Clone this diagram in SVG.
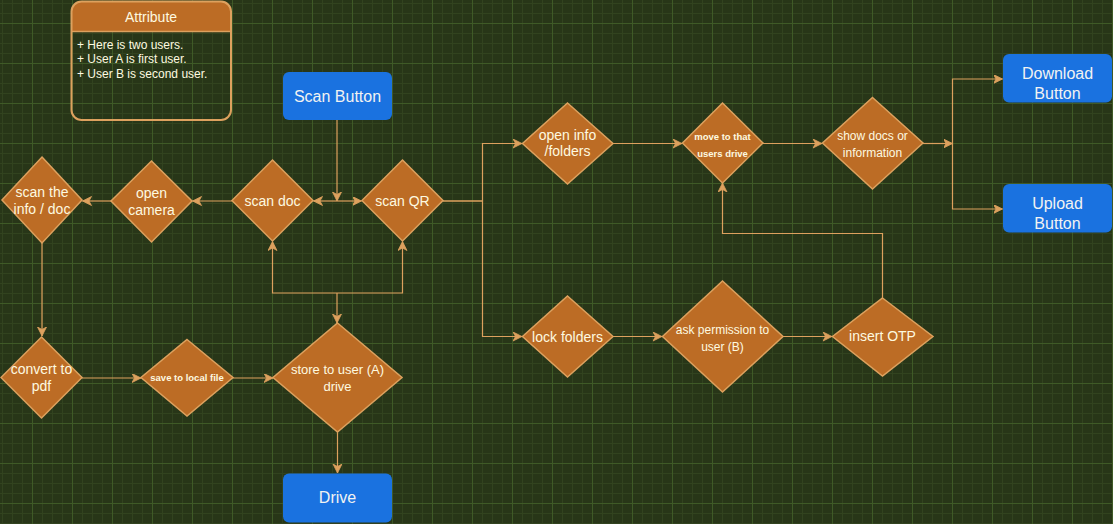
<svg xmlns="http://www.w3.org/2000/svg" width="1113" height="524" viewBox="0 0 1113 524">
<style>
.bg{fill:#283618}
.dia{fill:#BC6C25;stroke:#DDA15E;stroke-width:1.5}
.btn{fill:#1A72E0}
.t{font-family:"Liberation Sans",Arial,sans-serif;fill:#FEFAE0;text-anchor:middle}
.t14{font-size:14px}
.t13{font-size:13px}
.t12{font-size:12px}
.t10{font-size:9.5px;font-weight:bold}
.b{font-family:"Liberation Sans",Arial,sans-serif;fill:#F2F2F2;text-anchor:middle;font-size:16px}
.e{fill:none;stroke:#DDA15E;stroke-width:1.2;marker-end:url(#arr)}
.l{fill:none;stroke:#DDA15E;stroke-width:1.2}
</style>
<defs>
<pattern id="grid" patternUnits="userSpaceOnUse" x="32" y="23" width="40" height="40">
<rect width="40" height="40" fill="#283618"/>
<path d="M10.5,0V40M20.5,0V40M30.5,0V40M0,10.5H40M0,20.5H40M0,30.5H40" stroke="#32431f" stroke-width="1" fill="none"/>
<path d="M0.5,0V40M0,0.5H40" stroke="#3f5a27" stroke-width="1" fill="none"/>
</pattern>
<marker id="arr" markerUnits="userSpaceOnUse" markerWidth="12" markerHeight="10" refX="9" refY="4.5" orient="auto">
<path d="M0,0 L9,4.5 L0,9 L2.5,4.5 Z" fill="#DDA15E" stroke="#DDA15E" stroke-width="0.8"/>
</marker>
</defs>
<rect width="1113" height="524" fill="url(#grid)"/>

<g id="connectors">
<path class="e" d="M337,120 V201"/>
<path class="e" d="M337,201 H313.5"/>
<path class="e" d="M337,201 H361.5"/>
<path class="e" d="M232,201 H192.5"/>
<path class="e" d="M111,201 H82.5"/>
<path class="e" d="M42,243 V336"/>
<path class="e" d="M82,378 H141"/>
<path class="e" d="M233,378 H273"/>
<path class="e" d="M337,293 V323"/>
<path class="e" d="M337,293 H272.5 V241.5"/>
<path class="e" d="M337,293 H402.5 V241.5"/>
<path class="e" d="M337.5,432 V473"/>
<path class="e" d="M443,201 H482.5 V143.5 H522"/>
<path class="e" d="M443,201 H482.5 V336.5 H522"/>
<path class="e" d="M613,143.5 H682"/>
<path class="e" d="M763,143.5 H822"/>
<path class="e" d="M923,143.5 H952.5"/>
<path class="e" d="M952.5,143.5 V79 H1002.5"/>
<path class="e" d="M952.5,143.5 V209 H1002.5"/>
<path class="e" d="M613,336.5 H662"/>
<path class="e" d="M783,336.5 H832"/>
<path class="e" d="M882.5,298 V233.5 H722.5 V183"/>
</g>

<g id="attribute">
<path d="M81,1.5 H221 A10,10 0 0 1 231,11.5 V31.5 H71.5 V11.5 A10,10 0 0 1 81,1.5 Z" fill="#BC6C25"/>
<rect x="71.5" y="1.5" width="159.5" height="118.5" rx="10" fill="none" stroke="#DDA15E" stroke-width="2"/>
<line x1="71.5" y1="31.5" x2="231" y2="31.5" stroke="#DDA15E" stroke-width="1.5"/>
<text class="t t14" x="151" y="21.5">Attribute</text>
<text class="t t12" x="77" y="48.5" style="text-anchor:start">+ Here is two users.</text>
<text class="t t12" x="77" y="63" style="text-anchor:start">+ User A is first user.</text>
<text class="t t12" x="77" y="77.5" style="text-anchor:start">+ User B is second user.</text>
</g>

<g id="scan-button">
<rect class="btn" x="283" y="72" width="109" height="48" rx="6"/>
<text class="b" x="337.5" y="102">Scan Button</text>
</g>

<g id="scan-info">
<polygon class="dia" points="42,157 82,200 42,243 2,200"/>
<text class="t t14" x="42" y="197">scan the</text>
<text class="t t14" x="42" y="214">info / doc</text>
</g>

<g id="open-camera">
<polygon class="dia" points="151.5,161 192,201 151.5,242 111,201"/>
<text class="t t14" x="151.5" y="197.5">open</text>
<text class="t t14" x="151.5" y="214.5">camera</text>
</g>

<g id="scan-doc">
<polygon class="dia" points="272.5,160 313,200.5 272.5,241 232,200.5"/>
<text class="t t14" x="272.5" y="205.5">scan doc</text>
</g>

<g id="scan-qr">
<polygon class="dia" points="402.5,160 443,200.5 402.5,241 362,200.5"/>
<text class="t t14" x="402.5" y="205.5">scan QR</text>
</g>

<g id="convert-pdf">
<polygon class="dia" points="41.5,337 82,377.5 41.5,418 1,377.5"/>
<text class="t t14" x="41.5" y="374">convert to</text>
<text class="t t14" x="41.5" y="391">pdf</text>
</g>

<g id="save-local">
<polygon class="dia" points="187,339.5 233,377.5 187,416 141,377.5"/>
<text class="t t10" x="187" y="381">save to local file</text>
</g>

<g id="store-drive">
<polygon class="dia" points="337.5,323 402,377.5 337.5,432 273,377.5"/>
<text class="t t13" x="337.5" y="374">store to user (A)</text>
<text class="t t13" x="337.5" y="391">drive</text>
</g>

<g id="drive">
<rect class="btn" x="283" y="473.5" width="109" height="49" rx="6"/>
<text class="b" x="337.5" y="503">Drive</text>
</g>

<g id="open-info">
<polygon class="dia" points="567.5,103 613,143.5 567.5,184 522.5,143.5"/>
<text class="t t14" x="567.5" y="139.5">open info</text>
<text class="t t14" x="567.5" y="156">/folders</text>
</g>

<g id="move-drive">
<polygon class="dia" points="722.5,103 763,143 722.5,183 682.5,143"/>
<text class="t t10" x="722.5" y="140">move to that</text>
<text class="t t10" x="722.5" y="157">users drive</text>
</g>

<g id="show-docs">
<polygon class="dia" points="872.5,97.5 923,143 872.5,189 822.5,143"/>
<text class="t t12" x="872.5" y="140">show docs or</text>
<text class="t t12" x="872.5" y="157">information</text>
</g>

<g id="download">
<rect class="btn" x="1003" y="54" width="109" height="48.5" rx="6"/>
<text class="b" x="1057.5" y="78.5">Download</text>
<text class="b" x="1057.5" y="98.5">Button</text>
</g>

<g id="upload">
<rect class="btn" x="1003" y="184" width="109" height="48.5" rx="6"/>
<text class="b" x="1057.5" y="208.5">Upload</text>
<text class="b" x="1057.5" y="228.5">Button</text>
</g>

<g id="lock-folders">
<polygon class="dia" points="567.5,296 613,336.5 567.5,377 522.5,336.5"/>
<text class="t t14" x="567.5" y="341.5">lock folders</text>
</g>

<g id="ask-permission">
<polygon class="dia" points="722.5,281 783,336.5 722.5,392 662.5,336.5"/>
<text class="t t12" x="722.5" y="333.5">ask permission to</text>
<text class="t t12" x="722.5" y="350.5">user (B)</text>
</g>

<g id="insert-otp">
<polygon class="dia" points="882.5,298 933,336.5 882.5,376 832.5,336.5"/>
<text class="t t14" x="882.5" y="341">insert OTP</text>
</g>
</svg>
